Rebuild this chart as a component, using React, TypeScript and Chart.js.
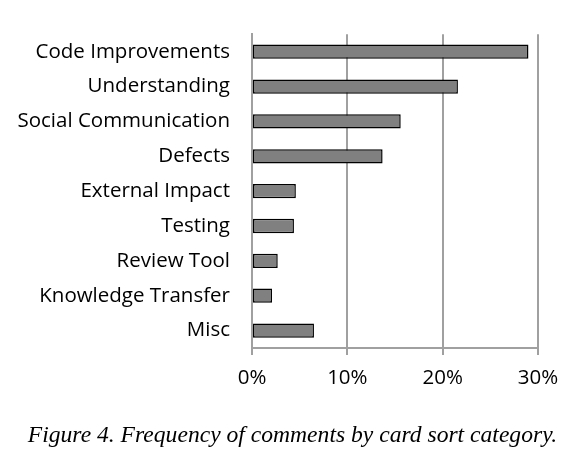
import { useEffect, useRef } from 'react';
import { Chart, registerables, type ChartConfiguration, type Plugin } from 'chart.js';

Chart.register(...registerables);

const CATEGORIES = [
  'Code Improvements',
  'Understanding',
  'Social Communication',
  'Defects',
  'External Impact',
  'Testing',
  'Review Tool',
  'Knowledge Transfer',
  'Misc',
];

// percent of comments per category
const FREQUENCY = [29.0, 21.6, 15.6, 13.7, 4.6, 4.4, 2.7, 2.1, 6.5];

const X_MAX = 30;
const X_STEP = 10;

const CAPTION = 'Figure 4. Frequency of comments by card sort category.';

const GRID = '#a0a0a0';
const LABEL_FONT = { family: "'Open Sans', 'Noto Sans', sans-serif", size: 20.5 };

// figure caption, centred on the whole page rather than the padded chart box
const captionPlugin: Plugin<'bar'> = {
  id: 'caption',
  afterDraw(chart) {
    const { ctx, width } = chart;
    ctx.save();
    ctx.font = "italic normal 23.6px 'Liberation Serif', serif";
    ctx.fillStyle = '#000';
    ctx.textAlign = 'center';
    ctx.textBaseline = 'alphabetic';
    ctx.fillText(CAPTION, width / 2, 442);
    ctx.restore();
  },
};

export default function App() {
  const canvasRef = useRef<HTMLCanvasElement | null>(null);

  useEffect(() => {
    const canvas = canvasRef.current;
    if (!canvas) return;

    const config: ChartConfiguration<'bar'> = {
      type: 'bar',
      data: {
        labels: CATEGORIES,
        datasets: [
          {
            label: 'Frequency',
            data: FREQUENCY,
            backgroundColor: '#808080',
            borderColor: '#000',
            borderWidth: 1.5,
            borderSkipped: false,
            categoryPercentage: 1,
            barPercentage: 0.41,
          },
        ],
      },
      options: {
        indexAxis: 'y',
        animation: false,
        responsive: true,
        maintainAspectRatio: false,
        layout: { autoPadding: false, padding: { top: 30, right: 47, bottom: 0, left: 0 } },
        plugins: {
          legend: { display: false },
          tooltip: { enabled: false },
        },
        scales: {
          x: {
            min: 0,
            max: X_MAX,
            ticks: {
              stepSize: X_STEP,
              color: '#000',
              font: LABEL_FONT,
              padding: 11,
              callback: (v) => `${v}%`,
            },
            grid: { color: GRID, lineWidth: 2, tickLength: 7, drawTicks: true },
            border: { display: true, color: GRID, width: 2 },
            afterFit: (scale) => {
              // room below the axis for the tick labels and the caption
              scale.height = 115;
            },
          },
          y: {
            ticks: { color: '#000', font: LABEL_FONT, padding: 22 },
            grid: { display: false, drawTicks: false },
            border: { display: true, color: GRID, width: 2 },
            afterFit: (scale) => {
              scale.width = 252;
            },
          },
        },
      },
      plugins: [captionPlugin],
    };

    const chart = new Chart(canvas, config);
    return () => chart.destroy();
  }, []);

  return (
    <div style={{ position: 'fixed', top: 0, left: 0, width: 585, height: 463, background: '#fff' }}>
      <canvas ref={canvasRef} />
    </div>
  );
}
